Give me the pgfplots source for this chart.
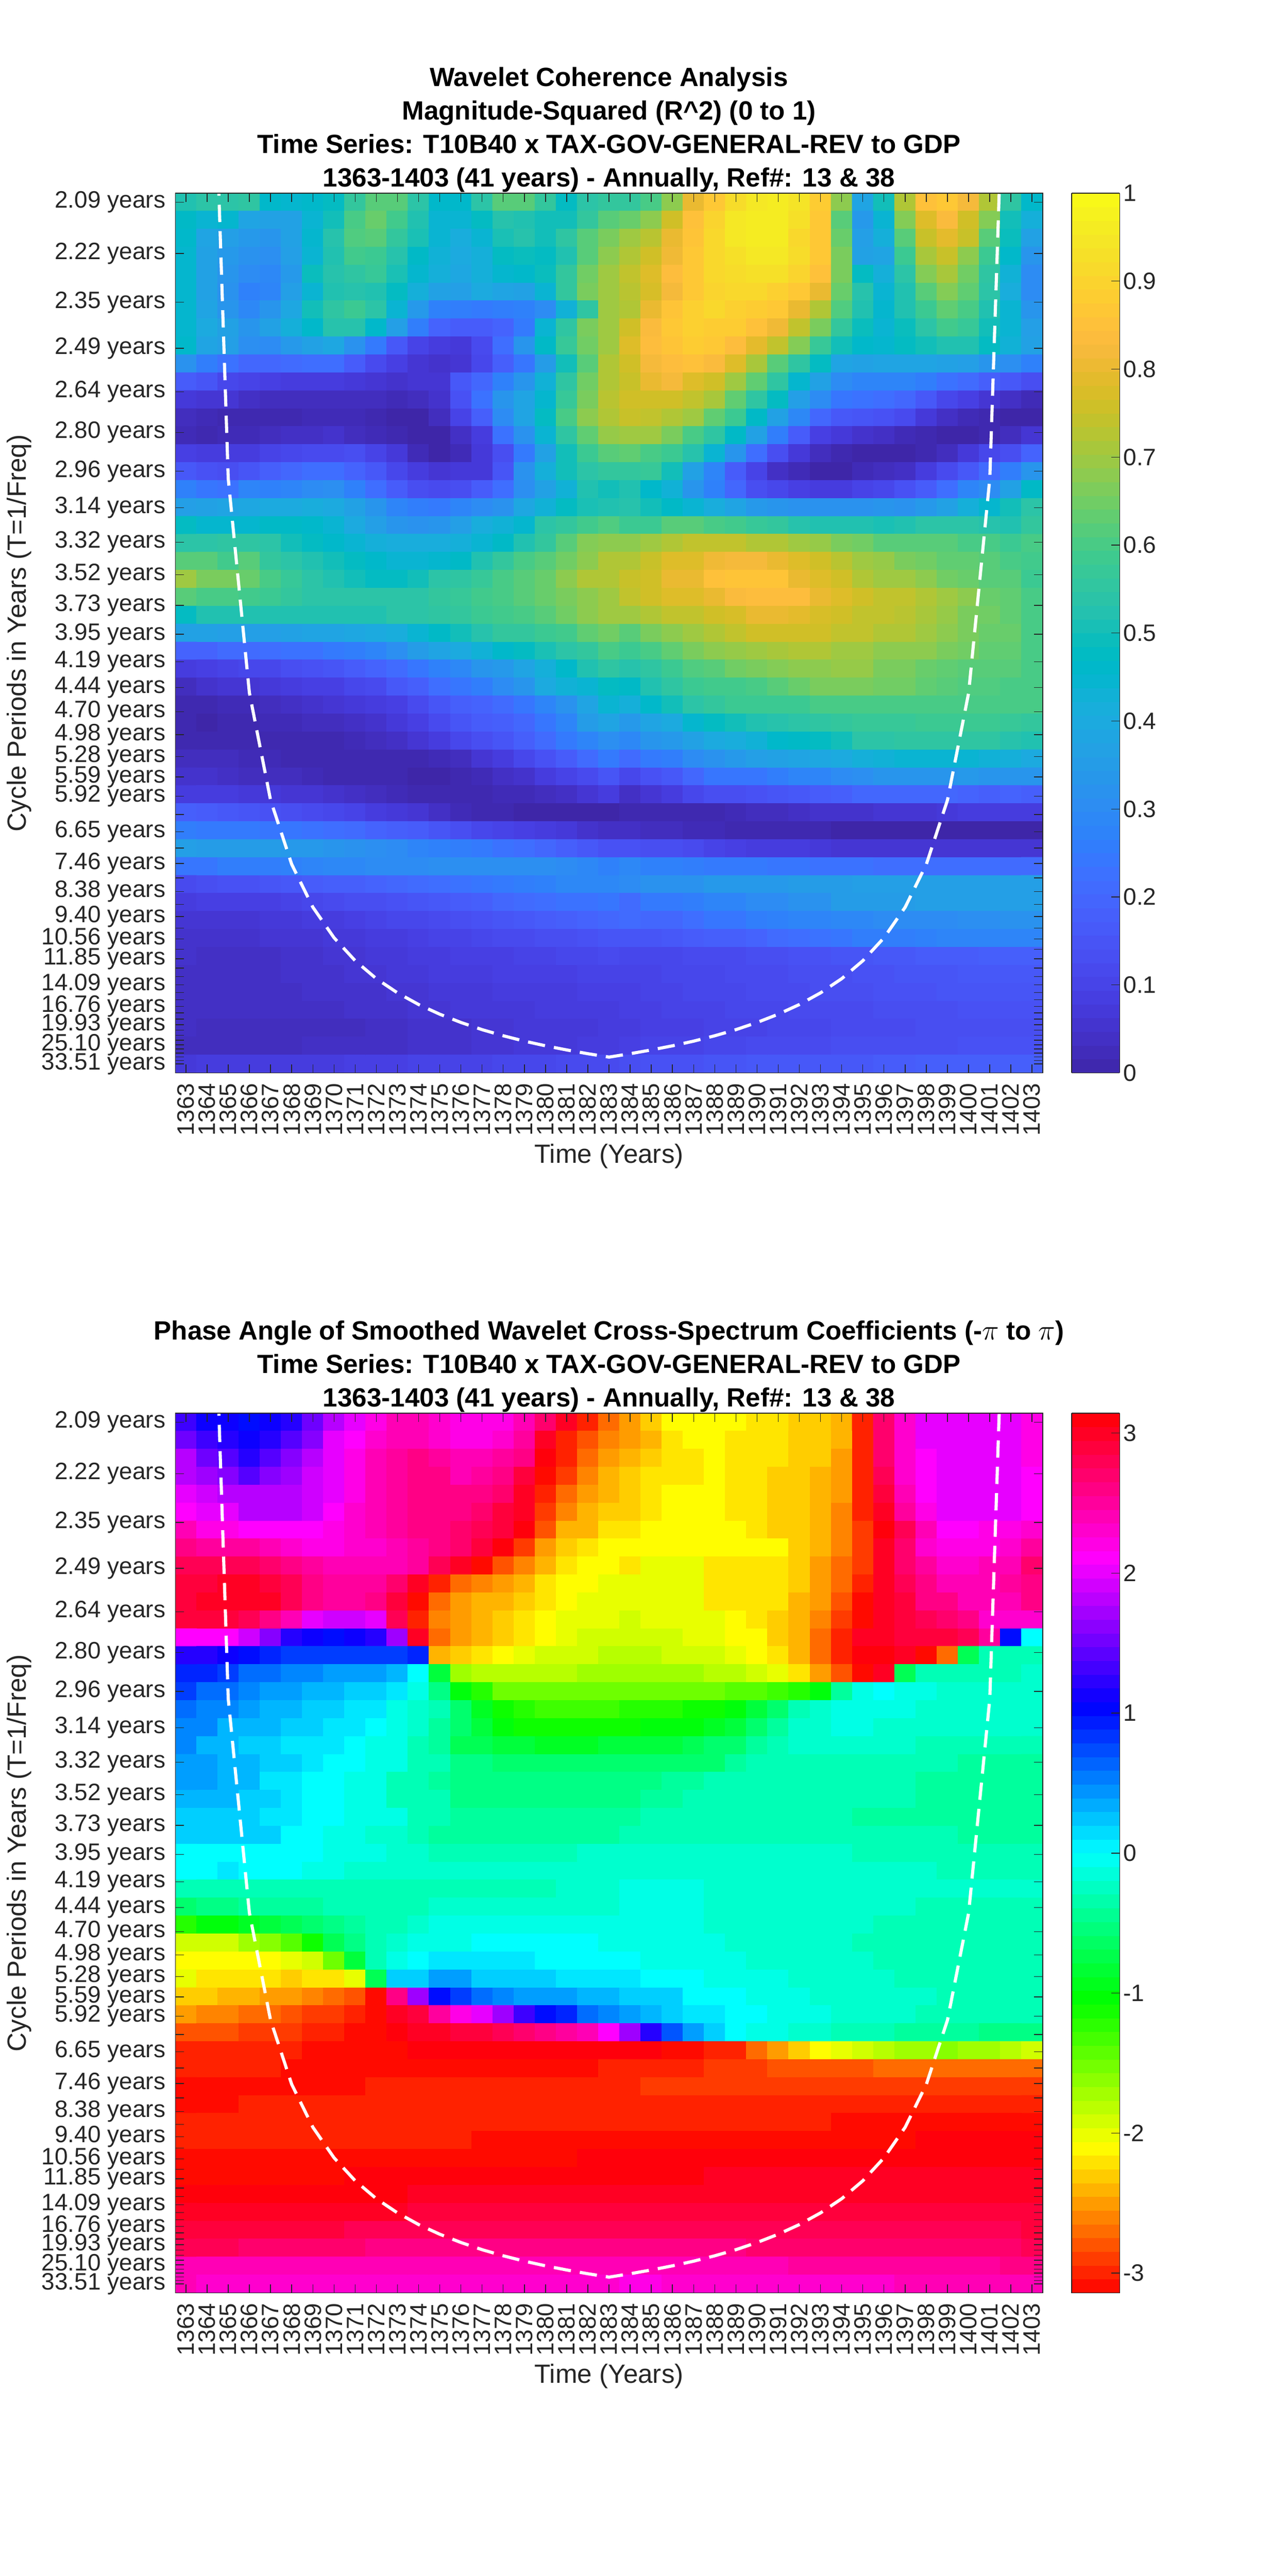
\documentclass[border=0pt]{standalone}
\usepackage{fontspec}
\setmainfont{Liberation Sans}
\usepackage{pgfplots}
\pgfplotsset{compat=1.18}
\definecolor{mg}{gray}{0.15}
\pgfplotsset{colormap={parula64}{
rgb=(0.2422,0.1504,0.6603) rgb=(0.2504,0.1650,0.7076) rgb=(0.2578,0.1818,0.7511) rgb=(0.2647,0.1978,0.7952)
rgb=(0.2706,0.2147,0.8364) rgb=(0.2751,0.2342,0.8710) rgb=(0.2783,0.2559,0.8991) rgb=(0.2803,0.2782,0.9221)
rgb=(0.2813,0.3006,0.9414) rgb=(0.2810,0.3228,0.9579) rgb=(0.2795,0.3447,0.9717) rgb=(0.2760,0.3667,0.9829)
rgb=(0.2699,0.3892,0.9906) rgb=(0.2602,0.4123,0.9952) rgb=(0.2440,0.4358,0.9988) rgb=(0.2206,0.4603,0.9973)
rgb=(0.1963,0.4847,0.9892) rgb=(0.1834,0.5074,0.9798) rgb=(0.1786,0.5289,0.9682) rgb=(0.1764,0.5499,0.9520)
rgb=(0.1687,0.5703,0.9359) rgb=(0.1540,0.5902,0.9218) rgb=(0.1460,0.6091,0.9079) rgb=(0.1380,0.6276,0.8973)
rgb=(0.1248,0.6459,0.8883) rgb=(0.1113,0.6635,0.8763) rgb=(0.0952,0.6798,0.8598) rgb=(0.0689,0.6948,0.8394)
rgb=(0.0297,0.7082,0.8163) rgb=(0.0036,0.7203,0.7917) rgb=(0.0067,0.7312,0.7660) rgb=(0.0433,0.7411,0.7394)
rgb=(0.0964,0.7500,0.7120) rgb=(0.1408,0.7584,0.6842) rgb=(0.1717,0.7670,0.6554) rgb=(0.1938,0.7758,0.6251)
rgb=(0.2161,0.7843,0.5923) rgb=(0.2470,0.7918,0.5567) rgb=(0.2906,0.7973,0.5188) rgb=(0.3406,0.8008,0.4789)
rgb=(0.3909,0.8029,0.4354) rgb=(0.4456,0.8024,0.3909) rgb=(0.5044,0.7993,0.3480) rgb=(0.5616,0.7942,0.3045)
rgb=(0.6174,0.7876,0.2612) rgb=(0.6720,0.7793,0.2227) rgb=(0.7242,0.7698,0.1910) rgb=(0.7738,0.7598,0.1646)
rgb=(0.8203,0.7498,0.1535) rgb=(0.8634,0.7406,0.1596) rgb=(0.9035,0.7330,0.1774) rgb=(0.9393,0.7288,0.2100)
rgb=(0.9728,0.7298,0.2394) rgb=(0.9956,0.7434,0.2371) rgb=(0.9970,0.7659,0.2199) rgb=(0.9952,0.7893,0.2028)
rgb=(0.9892,0.8136,0.1885) rgb=(0.9786,0.8386,0.1766) rgb=(0.9676,0.8639,0.1643) rgb=(0.9610,0.8890,0.1537)
rgb=(0.9597,0.9135,0.1423) rgb=(0.9628,0.9373,0.1265) rgb=(0.9691,0.9606,0.1064) rgb=(0.9769,0.9839,0.0805)}}
\pgfplotsset{colormap={myhsv}{rgb255=(255,0,0) rgb255=(255,255,0) rgb255=(0,255,0) rgb255=(0,255,255) rgb255=(0,0,255) rgb255=(255,0,255) rgb255=(255,0,0)}}
% row reader: each \M{...} is one row of the heat map (period row), 41 values, 1363..1403
\newtoks\cellt \newcount\rowc \newcount\colc
\def\endmark{;}
\def\addcell#1{\edef\celltmp{(\the\colc,\the\rowc) [#1] }\cellt=\expandafter\expandafter\expandafter{\expandafter\the\expandafter\cellt\celltmp}\advance\colc by 1 }
\def\readcells#1 {\def\tst{#1}\ifx\tst\endmark\let\nextc\relax\else\addcell{#1}\let\nextc\readcells\fi\nextc}
\def\M#1{\colc=1363 \readcells#1 ; \advance\rowc by 1 }
% y ticks: one per period, rows are linear in frequency
\def\ticklist{0}
\foreach \k in {1,...,48}{\pgfmathsetmacro\r{51.2*(1-2^(-\k/12))}\xdef\ticklist{\ticklist,\r}}
% R^2 in percent
\cellt={}\rowc=0
\M{52 54 54 55 46 45 46 48 56 62 62 54 46 46 54 62 62 56 48 54 56 56 60 68 80 87 92 95 96 94 88 68 38 50 72 85 87 82 72 55 46}
\M{47 44 45 38 37 37 44 50 60 64 59 52 44 44 48 53 52 50 50 56 62 64 68 76 85 90 95 96 96 93 87 62 34 44 67 78 83 76 67 50 42}
\M{46 38 36 34 33 37 45 53 61 62 56 51 44 41 44 51 53 50 55 62 66 70 73 80 86 91 95 96 96 91 87 64 36 42 62 75 79 75 62 49 37}
\M{45 37 34 32 31 36 44 52 59 58 53 47 43 40 42 48 49 48 52 62 68 72 76 81 87 91 93 95 95 92 87 66 37 38 58 71 75 68 58 46 33}
\M{45 37 33 30 29 34 49 53 55 57 51 45 42 39 42 45 46 49 56 65 70 74 78 84 87 91 92 93 93 90 85 66 48 42 54 67 71 65 55 43 30}
\M{45 37 32 27 28 36 44 52 53 52 48 42 37 36 40 38 37 44 56 66 70 73 77 82 87 90 91 91 89 87 80 64 53 44 52 62 67 63 54 41 30}
\M{45 38 33 29 33 39 50 55 58 54 44 34 27 26 25 26 27 30 43 55 70 72 80 86 89 91 89 88 87 80 72 61 52 45 52 58 63 60 52 44 33}
\M{45 40 37 33 37 42 46 53 53 46 36 26 19 17 17 19 25 44 55 66 70 76 83 87 89 88 88 85 81 74 66 56 49 44 49 54 59 57 50 44 36}
\M{46 38 36 31 30 34 37 39 32 25 16 10 8 7 12 22 33 47 57 65 70 78 84 86 88 87 84 79 74 67 57 50 46 45 48 50 52 52 48 43 37}
\M{32 26 23 20 20 21 22 22 17 12 9 6 5 6 11 18 24 35 50 62 72 76 82 84 85 83 78 71 62 55 48 38 37 38 38 38 37 36 33 31 27}
\M{17 15 11 10 9 8 8 8 7 6 5 6 6 16 20 27 33 43 55 65 72 75 80 82 78 76 70 63 55 45 37 30 28 28 28 26 23 21 18 16 13}
\M{7 6 6 4 3 3 3 3 3 3 2 3 5 14 23 33 38 45 57 66 73 76 76 76 74 71 63 55 48 36 30 24 23 22 20 16 11 9 6 4 2}
\M{3 2 1 1 1 1 2 2 2 1 0 0 3 10 18 30 38 48 60 68 72 75 74 72 70 63 58 47 37 29 20 16 15 14 12 7 4 2 1 0 0}
\M{2 1 2 2 3 4 4 5 3 2 1 0 0 4 8 23 32 44 55 63 69 70 70 66 60 55 47 37 26 17 9 7 5 4 2 1 0 0 1 3 6}
\M{9 8 8 8 10 11 12 12 13 10 7 2 0 2 7 13 25 37 50 58 62 63 60 58 53 44 33 22 13 7 3 1 0 0 0 1 3 7 11 13 19}
\M{16 14 13 15 18 20 22 22 19 16 11 8 6 7 7 15 32 42 50 54 56 56 57 50 37 28 17 10 4 2 0 0 2 3 4 8 12 16 21 26 33}
\M{27 24 23 28 27 28 30 31 27 22 17 13 12 13 17 22 31 37 43 52 50 52 46 43 33 27 20 13 11 9 8 8 10 11 14 17 22 28 30 37 47}
\M{36 37 38 39 40 40 41 40 37 33 28 26 25 28 30 32 39 43 48 51 52 53 50 47 44 41 38 34 33 32 32 32 32 33 32 34 37 42 45 50 54}
\M{48 45 45 45 47 47 46 44 40 36 33 32 33 36 41 43 45 54 56 59 61 58 58 62 62 60 59 57 56 53 52 52 52 51 52 54 54 54 53 52 56}
\M{54 54 55 55 54 50 48 46 44 42 41 41 41 42 44 47 52 56 62 67 68 68 70 72 74 74 74 72 72 70 69 66 65 62 62 62 62 60 60 58 60}
\M{62 62 59 62 56 54 52 50 48 46 44 44 45 47 52 56 60 62 65 68 72 72 75 78 78 81 82 82 80 78 76 73 70 69 66 65 63 63 62 60 59}
\M{70 66 66 64 60 57 54 52 50 48 48 50 54 55 57 60 62 64 68 72 72 75 76 80 80 85 86 86 86 80 78 76 72 70 70 68 65 64 62 62 58}
\M{62 60 60 59 58 56 54 54 54 54 54 54 56 57 59 60 62 64 66 68 70 74 76 78 78 80 83 84 84 84 80 78 76 74 74 72 70 68 64 63 60}
\M{48 52 52 52 52 52 52 52 52 52 54 54 55 56 58 59 60 62 65 68 70 70 72 74 74 76 77 80 80 79 77 76 74 74 73 71 69 66 65 63 60}
\M{37 37 36 36 36 37 38 38 39 40 41 44 47 50 53 56 56 58 59 63 65 62 66 68 70 72 74 76 76 76 76 74 74 72 72 70 68 66 64 64 60}
\M{19 19 21 21 22 23 23 25 26 28 31 35 38 40 43 46 48 51 54 56 60 58 60 63 66 68 69 70 71 72 72 70 70 68 68 68 66 65 63 63 60}
\M{8 9 10 11 11 13 14 15 17 19 21 24 27 29 33 34 38 42 46 52 55 53 55 58 61 62 65 66 67 68 68 69 69 66 66 64 63 62 62 62 60}
\M{3 5 6 6 7 8 9 9 11 12 16 18 22 24 26 30 33 40 43 44 48 47 52 55 58 59 59 60 62 64 66 66 66 65 65 63 62 61 61 60 60}
\M{1 1 2 2 3 4 5 6 7 8 9 12 15 18 19 21 24 28 32 38 44 42 46 50 54 56 58 58 58 58 60 60 60 60 60 60 60 60 60 60 60}
\M{1 0 1 1 2 2 3 3 4 5 7 9 12 15 17 18 20 24 28 35 38 34 38 40 45 48 50 52 53 54 55 56 57 57 57 58 58 58 58 57 56}
\M{1 1 1 1 1 1 1 1 2 3 4 6 8 11 13 15 18 21 25 28 31 29 33 34 37 40 41 43 46 47 48 50 54 54 55 55 55 55 55 53 52}
\M{3 3 3 2 2 1 1 1 1 1 1 1 2 3 6 8 11 14 17 21 25 21 25 26 30 32 34 36 37 38 39 40 42 43 44 44 44 44 43 42 40}
\M{5 5 4 3 3 3 2 1 1 1 1 0 0 1 2 4 5 8 10 12 15 11 14 16 20 24 24 24 26 28 28 30 31 33 33 33 33 34 33 33 33}
\M{8 8 8 7 7 6 6 5 4 3 2 1 1 1 1 2 2 3 4 6 8 4 6 8 11 13 13 14 15 16 17 18 20 20 20 20 20 19 18 19 18}
\M{18 17 16 15 14 13 12 11 10 8 7 6 4 2 1 1 0 0 0 0 0 1 1 1 1 1 2 3 3 4 5 5 5 6 6 6 7 8 8 8 8}
\M{26 25 25 25 24 24 23 22 21 19 18 17 15 13 11 10 9 8 7 5 4 4 3 3 2 2 1 1 1 1 1 0 0 0 0 0 0 0 0 0 0}
\M{36 35 35 35 35 34 34 33 32 31 30 28 27 26 25 23 22 20 18 16 14 14 13 13 12 10 9 8 8 8 7 6 6 6 6 6 6 6 6 6 6}
\M{24 24 26 26 26 27 28 29 29 30 30 30 31 31 31 31 31 31 30 29 27 29 27 27 26 25 25 25 24 24 23 23 23 22 22 22 22 22 22 21 21}
\M{12 13 14 14 15 16 17 18 18 19 20 21 22 23 24 25 26 27 29 29 29 30 32 32 32 34 34 34 34 35 35 35 36 36 36 36 36 36 36 36 36}
\M{8 9 9 9 9 10 11 12 13 13 14 15 16 17 18 20 21 22 23 23 24 21 25 25 26 28 28 30 30 32 32 35 35 35 35 36 36 36 36 36 36}
\M{6 6 6 6 7 7 8 8 9 10 11 11 12 13 14 15 16 17 18 19 20 21 20 20 22 24 24 26 27 28 28 29 29 30 30 30 30 31 31 32 32}
\M{5 5 5 5 6 6 6 7 7 8 8 9 10 10 11 12 12 13 13 14 15 15 15 16 17 18 18 19 21 22 23 24 26 26 26 27 28 28 28 28 28}
\M{5 4 4 4 4 5 5 6 6 7 7 8 8 9 9 9 10 10 11 11 12 11 11 11 12 12 12 13 13 14 14 15 15 16 16 17 17 17 18 18 18}
\M{4 4 4 4 4 5 5 5 6 6 7 7 8 8 8 9 9 9 9 10 10 10 10 11 11 11 12 12 12 13 13 13 14 14 15 15 15 16 16 16 16}
\M{4 4 4 4 4 4 5 5 5 5 6 6 7 7 7 8 8 8 8 9 9 9 10 10 11 11 11 12 12 12 13 13 13 14 14 14 15 15 15 15 15}
\M{4 4 4 4 4 4 4 4 5 5 5 6 6 7 7 7 7 8 8 8 8 9 9 10 10 10 11 11 11 12 12 12 12 13 13 13 13 14 14 14 14}
\M{4 3 3 3 3 3 3 3 3 4 4 5 5 5 6 6 7 7 7 7 8 8 9 9 9 10 10 10 11 11 11 12 12 12 12 13 13 13 13 13 13}
\M{3 3 3 3 3 3 4 4 4 4 4 5 5 5 6 6 7 7 7 8 8 9 10 10 10 11 11 12 12 12 12 13 13 13 13 13 13 14 14 14 14}
\M{7 8 8 8 8 8 8 8 9 9 9 10 10 10 10 11 11 11 12 12 12 13 14 14 14 15 15 16 16 16 16 16 16 17 17 18 18 18 18 18 18}
\newtoks\cellA \cellA=\expandafter{\the\cellt}
% phase in tenths of a radian
\cellt={}\rowc=0
\M{13 11 11 10 11 12 15 18 20 22 24 24 23 22 22 22 24 27 30 -30 -27 -25 -23 -21 -21 -21 -21 -22 -22 -23 -23 -24 -30 27 23 20 20 20 20 20 22}
\M{15 13 12 11 12 14 16 20 21 23 24 24 23 22 22 23 25 30 -30 -28 -26 -25 -24 -22 -21 -21 -22 -22 -22 -23 -23 -24 -30 27 23 20 20 20 20 20 22}
\M{18 15 14 12 14 16 18 20 22 24 25 26 25 24 24 25 26 31 -30 -27 -25 -24 -23 -22 -22 -21 -22 -22 -22 -23 -23 -25 -30 27 23 21 20 20 20 20 22}
\M{18 17 16 14 16 17 19 20 22 24 25 26 26 24 25 26 29 -31 -29 -26 -24 -23 -22 -22 -22 -21 -22 -22 -23 -23 -24 -25 -30 28 23 21 20 20 20 20 21}
\M{20 19 18 18 18 18 19 20 22 24 25 26 26 26 26 27 30 -30 -27 -25 -24 -23 -22 -21 -21 -21 -22 -22 -23 -23 -24 -25 -30 29 24 21 20 20 20 20 21}
\M{21 20 20 18 18 18 19 21 23 24 25 26 26 26 27 29 30 -29 -26 -24 -23 -23 -22 -21 -21 -21 -22 -22 -23 -23 -24 -26 -30 30 25 22 20 20 20 20 21}
\M{24 22 22 21 21 21 21 22 23 24 25 26 26 27 28 29 31 -28 -24 -24 -22 -22 -21 -21 -21 -21 -21 -22 -23 -23 -24 -26 -29 31 28 24 21 21 22 22 23}
\M{26 25 25 25 24 23 22 22 23 23 24 25 26 27 29 31 -29 -25 -23 -22 -21 -21 -21 -21 -21 -21 -21 -21 -21 -23 -24 -26 -29 30 27 23 22 22 22 23 25}
\M{28 28 28 28 27 26 25 24 24 24 24 25 28 30 -31 -28 -26 -24 -22 -21 -21 -22 -20 -20 -20 -22 -22 -22 -22 -23 -25 -27 -29 30 27 25 23 23 24 24 27}
\M{29 29 30 30 29 28 26 25 25 25 27 30 -30 -27 -26 -25 -24 -22 -21 -21 -20 -20 -20 -20 -20 -22 -22 -22 -22 -23 -25 -27 -30 30 28 26 24 24 24 25 26}
\M{29 30 30 30 30 28 26 25 25 26 29 -31 -27 -25 -24 -24 -23 -22 -21 -20 -20 -20 -20 -20 -20 -22 -22 -22 -22 -24 -25 -28 -31 30 29 26 26 24 24 24 26}
\M{29 29 29 28 26 24 20 19 19 20 28 -30 -26 -25 -24 -23 -22 -21 -20 -20 -20 -19 -20 -20 -20 -20 -21 -22 -23 -24 -26 -29 -31 30 29 28 27 26 23 23 23}
\M{21 21 21 19 16 12 11 10 11 12 17 30 -27 -25 -24 -23 -22 -21 -20 -19 -19 -19 -19 -19 -20 -20 -21 -21 -23 -24 -27 -30 30 30 29 29 29 28 25 10 0}
\M{12 12 11 10 9 8 8 8 8 8 8 9 -24 -23 -22 -21 -20 -19 -19 -19 -18 -18 -18 -19 -19 -19 -20 -21 -22 -24 -27 -30 31 31 30 -31 -27 -7 -3 -3 -3}
\M{9 9 8 6 6 5 5 4 4 4 3 0 -8 -17 -18 -18 -18 -18 -18 -17 -17 -17 -17 -17 -17 -18 -18 -19 -20 -22 -25 -28 -31 30 -7 -3 -3 -3 -3 -3 -2}
\M{8 6 6 5 4 4 3 3 2 2 1 -1 -5 -10 -12 -15 -15 -15 -15 -15 -15 -15 -15 -15 -15 -15 -14 -14 -13 -12 -10 -4 -1 0 -1 -1 -2 -2 -2 -2 -2}
\M{6 5 5 4 3 3 2 2 1 1 -1 -2 -3 -6 -9 -11 -12 -13 -13 -13 -13 -12 -12 -12 -11 -11 -10 -8 -6 -3 -2 -1 -1 -1 -1 -2 -2 -2 -2 -2 -2}
\M{5 5 3 3 3 2 2 1 1 0 -1 -2 -4 -6 -8 -10 -11 -11 -11 -11 -11 -11 -10 -10 -10 -9 -8 -6 -4 -2 -2 -1 -1 -2 -2 -2 -2 -2 -2 -2 -2}
\M{5 3 3 2 2 1 1 1 0 -1 -1 -3 -4 -7 -7 -8 -8 -9 -9 -9 -8 -8 -8 -8 -7 -6 -6 -4 -3 -2 -2 -2 -2 -2 -2 -3 -3 -3 -3 -3 -3}
\M{4 4 3 3 2 2 1 0 0 -1 -1 -3 -3 -5 -5 -6 -6 -6 -6 -6 -6 -6 -6 -6 -6 -6 -4 -3 -3 -3 -3 -3 -3 -3 -3 -3 -3 -4 -4 -4 -4}
\M{4 4 3 3 1 1 0 0 -1 -1 -3 -3 -4 -5 -5 -5 -5 -5 -5 -5 -5 -5 -5 -4 -4 -3 -3 -3 -3 -3 -3 -3 -3 -3 -3 -4 -4 -4 -4 -4 -4}
\M{3 3 3 2 2 1 0 0 -1 -1 -3 -3 -3 -5 -5 -5 -5 -5 -5 -5 -5 -5 -4 -4 -3 -3 -3 -3 -3 -3 -3 -3 -3 -3 -3 -4 -4 -4 -4 -4 -4}
\M{2 2 2 2 1 1 0 0 -1 -1 -1 -3 -3 -4 -4 -4 -4 -4 -4 -4 -4 -4 -3 -3 -3 -3 -3 -3 -3 -3 -3 -3 -4 -4 -4 -4 -4 -4 -4 -4 -4}
\M{2 2 2 2 2 0 0 -1 -1 -2 -2 -3 -4 -4 -4 -4 -4 -4 -4 -4 -4 -3 -3 -3 -3 -3 -3 -3 -3 -3 -3 -3 -3 -3 -3 -3 -3 -4 -4 -4 -4}
\M{0 0 0 0 0 0 0 -1 -1 -1 -2 -2 -3 -3 -3 -3 -3 -3 -3 -2 -2 -2 -2 -2 -2 -2 -2 -2 -2 -2 -2 -2 -3 -3 -3 -3 -3 -3 -3 -3 -3}
\M{0 0 1 0 0 0 -1 -1 -2 -2 -2 -2 -2 -2 -2 -2 -2 -2 -2 -2 -2 -2 -2 -2 -2 -2 -2 -2 -2 -2 -2 -2 -2 -2 -2 -2 -3 -3 -3 -3 -3}
\M{-3 -3 -3 -3 -3 -3 -3 -3 -3 -3 -3 -3 -3 -3 -3 -3 -3 -3 -2 -2 -2 -1 -1 -1 -1 -2 -2 -2 -2 -2 -2 -2 -2 -2 -2 -2 -2 -2 -2 -2 -2}
\M{-6 -5 -5 -4 -4 -4 -4 -3 -3 -3 -3 -3 -2 -2 -2 -2 -2 -2 -2 -2 -2 -1 -1 -1 -1 -2 -2 -2 -2 -2 -2 -2 -2 -2 -2 -3 -3 -3 -3 -3 -3}
\M{-12 -10 -10 -9 -8 -7 -6 -5 -4 -3 -3 -2 -1 -1 -1 -1 -1 -1 -1 -1 -1 -1 -1 -1 -1 -2 -2 -2 -2 -2 -2 -2 -2 -3 -3 -3 -3 -3 -3 -3 -3}
\M{-19 -19 -19 -17 -16 -14 -11 -7 -5 -3 -2 -1 -1 -1 0 0 0 0 0 0 -1 -1 -1 -1 -1 -1 -2 -2 -2 -2 -2 -2 -3 -3 -3 -3 -3 -3 -3 -3 -3}
\M{-21 -21 -21 -21 -21 -20 -19 -15 -8 -3 -1 0 1 1 1 1 1 0 0 0 0 0 -1 -1 -1 -1 -1 -2 -2 -2 -2 -2 -2 -3 -3 -3 -3 -3 -3 -3 -3}
\M{-20 -22 -22 -22 -22 -23 -22 -22 -20 -7 2 2 4 4 2 2 2 2 1 1 1 1 0 0 0 -1 -1 -1 -1 -2 -2 -2 -2 -2 -3 -3 -3 -3 -3 -3 -3}
\M{-23 -23 -24 -24 -25 -25 -26 -27 -28 -31 26 17 10 8 6 5 4 4 4 3 3 2 2 2 0 0 0 -1 -1 -1 -2 -2 -2 -2 -2 -2 -3 -3 -3 -3 -3}
\M{-25 -26 -26 -27 -27 -28 -29 -29 -30 -31 30 29 25 22 20 17 13 10 9 6 5 4 3 2 1 1 0 0 -1 -1 -1 -2 -2 -2 -2 -3 -3 -3 -3 -3 -3}
\M{-28 -28 -28 -29 -29 -29 -30 -30 -31 -31 31 30 30 29 29 28 27 26 25 24 21 17 12 7 4 2 0 -1 -1 -2 -2 -3 -3 -3 -4 -4 -4 -4 -5 -5 -5}
\M{-30 -30 -30 -30 -30 -30 -31 -31 -31 -31 -31 31 31 31 31 31 31 31 31 31 31 31 31 -31 -31 -30 -30 -27 -25 -23 -21 -20 -19 -18 -17 -17 -16 -17 -17 -18 -19}
\M{-30 -30 -30 -30 -30 -31 -31 -31 -31 -31 -31 -31 -31 -31 -31 -31 -31 -31 -31 -31 -30 -30 -30 -30 -30 -29 -29 -29 -28 -28 -28 -28 -28 -27 -27 -27 -27 -27 -27 -27 -27}
\M{-31 -31 -31 -31 -31 -31 -31 -31 -31 -30 -30 -30 -30 -30 -30 -30 -30 -30 -30 -30 -30 -30 -29 -29 -29 -29 -29 -29 -29 -29 -29 -29 -29 -29 -29 -29 -29 -29 -29 -29 -29}
\M{-31 -31 -31 -30 -30 -30 -30 -30 -30 -30 -30 -30 -30 -30 -30 -30 -30 -30 -30 -30 -30 -30 -30 -30 -30 -30 -30 -30 -30 -30 -30 -30 -30 -30 -30 -30 -30 -30 -30 -30 -30}
\M{-30 -30 -30 -30 -30 -30 -30 -30 -30 -30 -30 -30 -30 -30 -30 -30 -30 -30 -30 -30 -30 -30 -30 -30 -30 -30 -30 -30 -30 -30 -30 -31 -31 -31 -31 -31 -31 -31 -31 -31 -31}
\M{-30 -30 -30 -30 -30 -30 -30 -30 -30 -30 -30 -30 -30 -30 -31 -31 -31 -31 -31 -31 -31 -31 -31 -31 -31 -31 -31 -31 -31 -31 -31 -31 -31 -31 -31 31 31 31 31 31 31}
\M{-31 -31 -31 -31 -31 -31 -31 -31 -31 -31 -31 -31 -31 -31 -31 -31 -31 -31 -31 31 31 31 31 31 31 31 31 31 31 31 31 31 31 31 31 31 31 31 31 31 31}
\M{-31 -31 -31 -31 -31 -31 -31 -31 31 31 31 31 31 31 31 31 31 31 31 31 31 31 31 31 31 30 30 30 30 30 30 30 30 30 30 30 30 30 30 30 30}
\M{31 31 31 31 31 31 31 31 31 31 31 30 30 30 30 30 30 30 30 30 30 30 30 30 30 30 30 30 30 30 30 30 30 30 30 30 30 30 30 30 30}
\M{30 30 30 30 30 30 30 30 30 30 30 29 29 29 29 29 29 29 29 29 29 29 29 29 29 29 29 29 29 29 29 29 29 29 29 29 29 29 29 29 29}
\M{29 29 29 29 29 29 29 29 28 28 28 28 28 28 28 28 28 28 28 28 28 28 28 28 28 28 28 28 28 28 28 28 28 28 28 28 28 28 28 28 29}
\M{28 28 28 27 27 27 27 27 27 26 26 26 26 26 26 26 26 26 26 26 26 26 26 26 26 26 26 27 27 27 27 27 27 27 27 27 27 27 27 27 28}
\M{24 24 24 24 24 24 24 24 24 24 24 24 24 24 24 24 24 24 24 24 24 24 24 24 24 24 24 24 24 25 25 25 25 25 25 25 25 25 25 26 26}
\M{24 23 23 23 23 23 23 23 23 23 23 23 23 23 23 23 23 23 23 23 23 22 22 23 23 23 23 23 23 23 23 23 23 23 24 24 24 24 24 24 24}
\newtoks\cellB \cellB=\expandafter{\the\cellt}
\edef\plotA{\noexpand\addplot[matrix plot*,mesh/cols=41,mesh/rows=49,point meta=explicit] coordinates {\the\cellA};}
\edef\plotB{\noexpand\addplot[matrix plot*,mesh/cols=41,mesh/rows=49,point meta=explicit] coordinates {\the\cellB};}
\newcommand\tickf{\fontsize{14.4}{14.4}\selectfont}
\newcommand\labf{\fontsize{16}{16}\selectfont}
\newcommand\titf{\fontsize{16}{20.25}\selectfont\bfseries}
\pgfplotsset{wc/.style={
 scale only axis,width=526.25pt,height=533.75pt,anchor=south west,
 xmin=1362.5,xmax=1403.5,ymin=-0.5,ymax=48.5,y dir=reverse,enlargelimits=false,axis on top,
 tick align=inside,major tick length=5.3pt,tick style={mg,line width=0.45pt},axis line style={mg,line width=0.5pt},
 /pgf/number format/assume math mode=true,/pgf/number format/1000 sep={},
 xtick={1363,1364,...,1403},ytick=\ticklist,
 yticklabels={2.09 years,2.22 years,2.35 years,2.49 years,2.64 years,2.80 years,2.96 years,3.14 years,3.32 years,3.52 years,3.73 years,3.95 years,4.19 years,4.44 years,4.70 years,4.98 years,5.28 years,5.59 years,5.92 years,{},6.65 years,{},7.46 years,{},8.38 years,{},9.40 years,{},10.56 years,{},11.85 years,{},{},14.09 years,{},{},16.76 years,{},{},19.93 years,{},{},{},25.10 years,{},{},{},{},33.51 years},
 xticklabel style={rotate=90,anchor=east,font=\tickf,text=mg,inner sep=0pt,xshift=-6pt},
 yticklabel style={font=\tickf,text=mg,inner sep=0pt,anchor=east,xshift=-5.75pt},
 xlabel={Time (Years)},ylabel={Cycle Periods in Years (T=1/Freq)},
 every axis x label/.style={at={(axis description cs:0.5,-0.0946)},anchor=center,font=\labf,text=mg},
 every axis y label/.style={at={(axis description cs:-0.180,0.5)},rotate=90,anchor=center,font=\labf,text=mg},
 title style={at={(axis description cs:0.5,1)},anchor=south,font=\titf,align=center,inner sep=0pt,yshift=-5.5pt},
 colorbar sampled,colorbar shift/.style={xshift=17.5pt},
},
cbs/.style={at={(parent axis.north east)},anchor=north west,width=29.25pt,samples=65,ytick pos=right,yticklabel pos=right,tick align=inside,major tick length=5pt,
  tick style={mg,line width=0.45pt},axis line style={mg,line width=0.5pt},yticklabel style={font=\tickf,text=mg,inner sep=0pt,anchor=west,xshift=2pt}}}
\newcommand\coi{\addplot[white,line width=1.9pt,dash pattern=on 10.5pt off 5.5pt] coordinates {
(1364,-20.41)(1365,15.40)(1366,27.33)(1367,33.30)(1368,36.88)(1369,39.27)(1370,40.97)(1371,42.25)(1372,43.25)(1373,44.04)(1374,44.69)(1375,45.23)(1376,45.69)(1377,46.09)(1378,46.43)(1379,46.73)(1380,46.99)(1381,47.22)(1382,47.43)(1383,47.62)
(1384,47.43)(1385,47.22)(1386,46.99)(1387,46.73)(1388,46.43)(1389,46.09)(1390,45.69)(1391,45.23)(1392,44.69)(1393,44.04)(1394,43.25)(1395,42.25)(1396,40.97)(1397,39.27)(1398,36.88)(1399,33.30)(1400,27.33)(1401,15.40)(1402,-20.41)};}
\begin{document}
\begin{tikzpicture}
\path[use as bounding box] (0,0) rectangle (781.25pt,1563pt);
\begin{axis}[wc,at={(106.4pt,912pt)},
 title={Wavelet Coherence Analysis\\Magnitude-Squared (R\^{}2) (0 to 1)\\Time Series: T10B40 x TAX-GOV-GENERAL-REV to GDP\\1363-1403 (41 years) - Annually, Ref\#: 13 \& 38},
 colormap name=parula64,point meta min=0,point meta max=100,
 colorbar style={ytick={0,10,...,100},yticklabels={0,0.1,0.2,0.3,0.4,0.5,0.6,0.7,0.8,0.9,1},cbs}]
\plotA
\coi
\end{axis}
\begin{axis}[wc,at={(106.4pt,171.75pt)},
 title={Phase Angle of Smoothed Wavelet Cross-Spectrum Coefficients (-$\pi$ to $\pi$)\\Time Series: T10B40 x TAX-GOV-GENERAL-REV to GDP\\1363-1403 (41 years) - Annually, Ref\#: 13 \& 38},
 colormap name=myhsv,point meta min=-31.416,point meta max=31.416,
 colorbar style={ytick={-30,-20,...,30},yticklabels={-3,-2,-1,0,1,2,3},cbs}]
\plotB
\coi
\end{axis}
\end{tikzpicture}
\end{document}
